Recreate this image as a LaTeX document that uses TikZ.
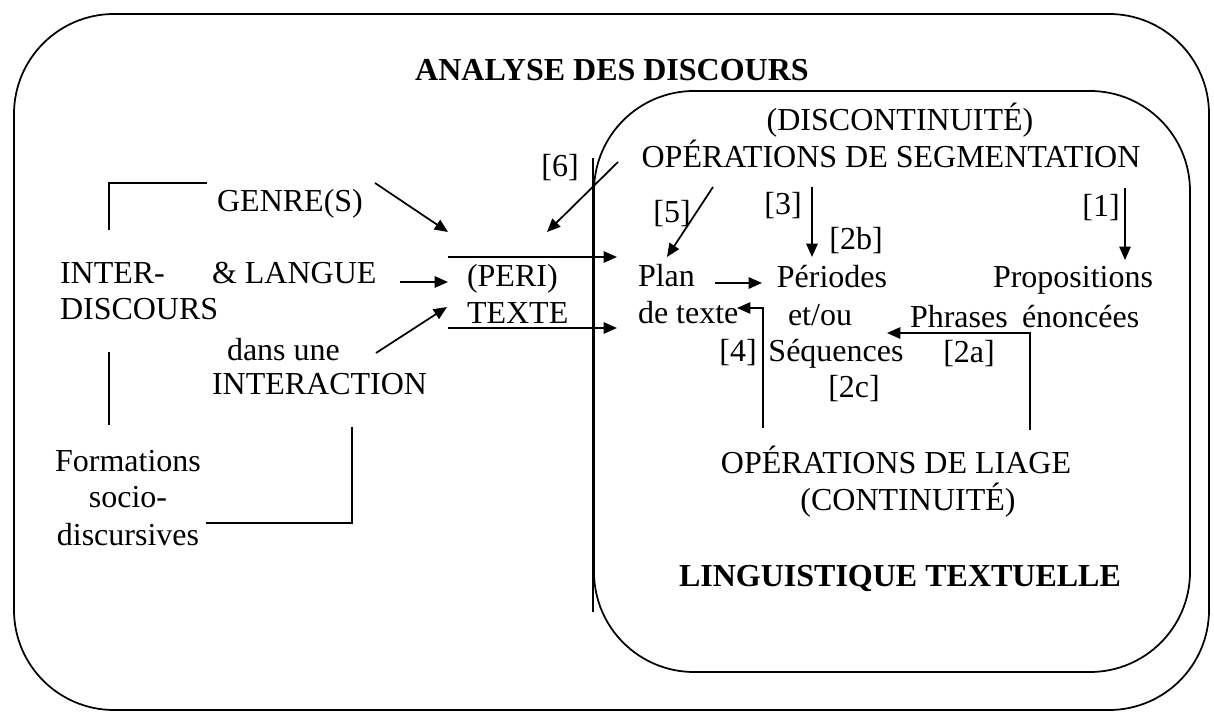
\documentclass[tikz,border=0pt]{standalone}
\usepackage{fontspec}
\setmainfont{Liberation Serif}
\usetikzlibrary{arrows.meta}
\begin{document}
\begin{tikzpicture}[x=0.75pt,y=-0.75pt,
  txt/.style={inner sep=0pt,outer sep=0pt,font=\fontsize{24pt}{28pt}\selectfont},
  ttl/.style={inner sep=0pt,outer sep=0pt,font=\fontsize{24pt}{28pt}\selectfont\bfseries},
  ln/.style={line width=1.3pt},
  arr/.style={line width=1.3pt,-{Triangle[length=10pt,width=8.5pt]}},
  boxline/.style={line width=1.3pt,rounded corners=75pt}]
\useasboundingbox (0,0) rectangle (1214,716);
\fill[white] (0,0) rectangle (1214,716);
% boxes
\draw[boxline] (14,14) rectangle (1209,710);
\draw[boxline] (594,91) rectangle (1190,672);
\draw[ln] (593,158) -- (593,612);
% texts
\node[ttl,anchor=base] (analyse) at (612,81) {ANALYSE DES DISCOURS};
\node[txt,anchor=base] (discont) at (900,131) {(DISCONTINUITÉ)};
\node[txt,anchor=base] (segm) at (891,168) {OPÉRATIONS DE SEGMENTATION};
\node[txt,anchor=base] (l6) at (560,177) {[6]};
\node[txt,anchor=base] (genre) at (290,212) {GENRE(S)};
\node[txt,anchor=base west] (inter) at (60,284) {INTER-};
\node[txt,anchor=base west] (discours) at (60,320) {DISCOURS};
\node[txt,anchor=base west] (langue) at (212,284) {\& LANGUE};
\node[txt,anchor=base west] (peri) at (467,287) {(PERI)};
\node[txt,anchor=base west] (texte) at (467,324) {TEXTE};
\node[txt,anchor=base west] (dans) at (227,361) {dans une};
\node[txt,anchor=base west] (interaction) at (212,395) {INTERACTION};
\node[txt,anchor=base] (form) at (128,472) {Formations};
\node[txt,anchor=base] (socio) at (128,508) {socio-};
\node[txt,anchor=base] (discurs) at (128,545) {discursives};
\node[txt,anchor=base] (l5) at (672,223) {[5]};
\node[txt,anchor=base] (l3) at (783,215) {[3]};
\node[txt,anchor=base] (l1) at (1101,217) {[1]};
\node[txt,anchor=base] (l2b) at (856,250) {[2b]};
\node[txt,anchor=base west] (plan) at (638,287) {Plan};
\node[txt,anchor=base west] (detexte) at (638,324) {de texte};
\node[txt,anchor=base] (periodes) at (832,288) {Périodes};
\node[txt,anchor=base] (etou) at (820,326) {et/ou};
\node[txt,anchor=base] (sequences) at (836,362) {Séquences};
\node[txt,anchor=base west] (propositions) at (993,288) {Propositions};
\node[txt,anchor=base west] (phrases) at (910,328) {Phrases};
\node[txt,anchor=base west] (enoncees) at (1022,328) {énoncées};
\node[txt,anchor=base] (l4) at (738,362) {[4]};
\node[txt,anchor=base] (l2a) at (969,363) {[2a]};
\node[txt,anchor=base] (l2c) at (854,398) {[2c]};
\node[txt,anchor=base] (liage) at (896,474) {OPÉRATIONS DE LIAGE};
\node[txt,anchor=base] (cont) at (908,510) {(CONTINUITÉ)};
\node[ttl,anchor=base] (ling) at (900,586) {LINGUISTIQUE TEXTUELLE};
% coordinates
\coordinate (gA) at (375,183);  \coordinate (gB) at (448,232);
\coordinate (lA) at (400,282);  \coordinate (lB) at (448,282);
\coordinate (dA) at (376,353);  \coordinate (dB) at (447,307);
\coordinate (sA) at (618,162);  \coordinate (sB) at (547,232);
\coordinate (tA) at (448,257);  \coordinate (tB) at (617,257);
\coordinate (bA) at (448,328);  \coordinate (bB) at (617,328);
\coordinate (fA) at (713,187);  \coordinate (fB) at (667,257);
\coordinate (pA) at (715,283);  \coordinate (pB) at (762,283);
\coordinate (cA) at (812,187);  \coordinate (cB) at (812,257);
\coordinate (oA) at (1125,188); \coordinate (oB) at (1125,260);
\coordinate (qA) at (763,428);  \coordinate (qC) at (763,308); \coordinate (qB) at (737,308);
\coordinate (rA) at (1030,430); \coordinate (rC) at (1030,333); \coordinate (rB) at (887,333);
\coordinate (k1) at (109,230); \coordinate (k2) at (109,183); \coordinate (k3) at (207,183);
\coordinate (m1) at (109,352); \coordinate (m2) at (109,425);
\coordinate (n1) at (352,427); \coordinate (n2) at (352,523); \coordinate (n3) at (206,523);
% connectors
\draw[arr] (gA) -- (gB);
\draw[arr] (lA) -- (lB);
\draw[arr] (dA) -- (dB);
\draw[arr] (sA) -- (sB);
\draw[arr] (tA) -- (tB);
\draw[arr] (bA) -- (bB);
\draw[arr] (fA) -- (fB);
\draw[arr] (pA) -- (pB);
\draw[arr] (cA) -- (cB);
\draw[arr] (oA) -- (oB);
\draw[arr] (qA) -- (qC) -- (qB);
\draw[arr] (rA) -- (rC) -- (rB);
\draw[ln] (k1) -- (k2) -- (k3);
\draw[ln] (m1) -- (m2);
\draw[ln] (n1) -- (n2) -- (n3);
\end{tikzpicture}
\end{document}
